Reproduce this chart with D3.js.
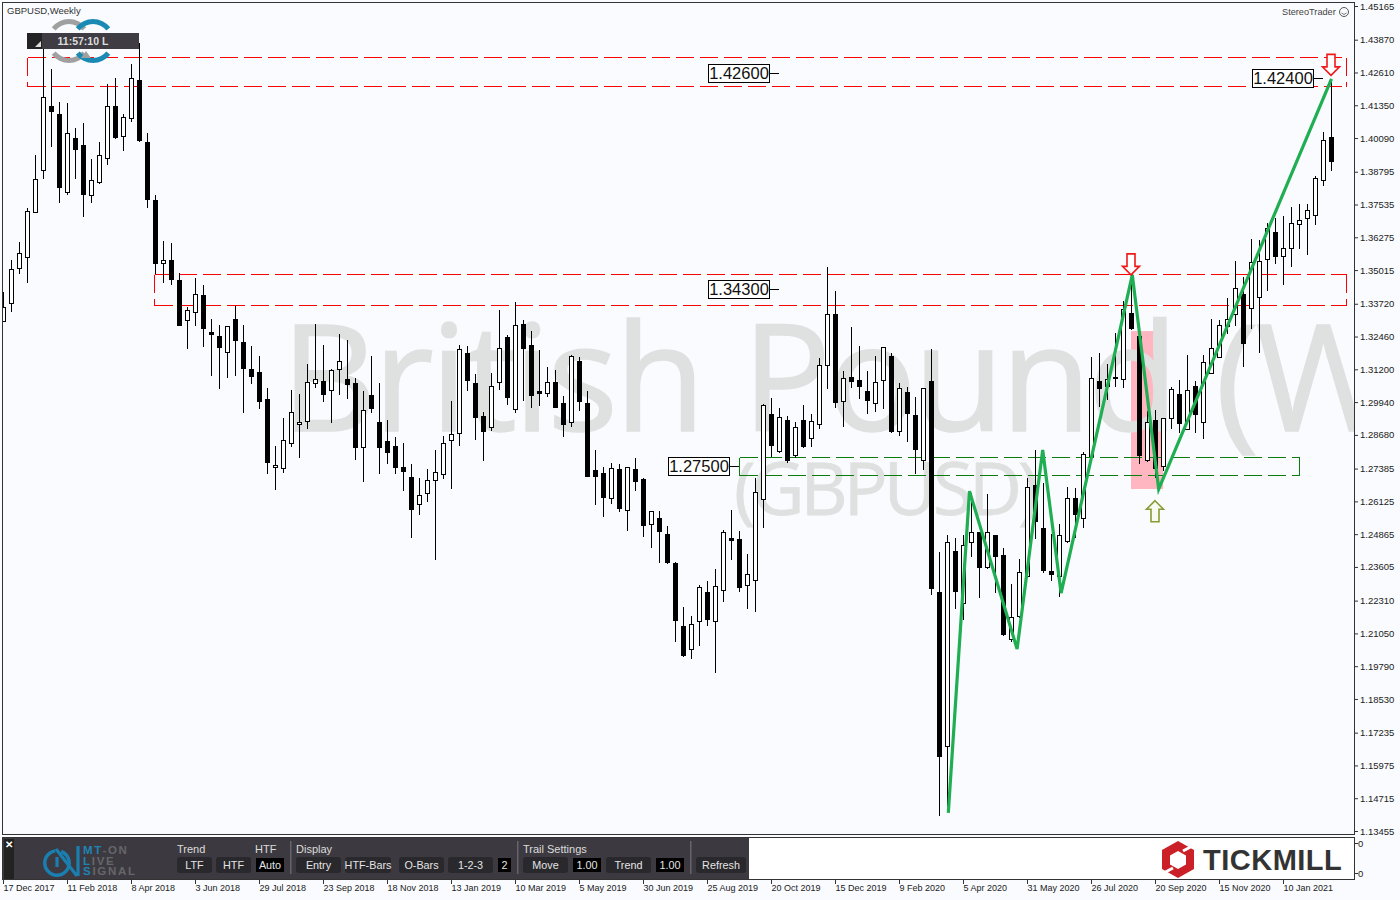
<!DOCTYPE html>
<html><head><meta charset="utf-8">
<style>
html,body{margin:0;padding:0;background:#f9fbfe;overflow:hidden}
svg{display:block}
text{font-family:"Liberation Sans",Arial,sans-serif}
</style>
<script src="https://cdn.jsdelivr.net/npm/d3@7"></script>
</head><body><svg id="c" width="1400" height="900"></svg>
<script>
const symbol="GBPUSD,Weekly";
const yTickLabels=[1.45165,1.43870,1.42610,1.41350,1.40090,1.38795,1.37535,1.36275,1.35015,1.33720,1.32460,1.31200,1.29940,1.28680,1.27385,1.26125,1.24865,1.23605,1.22310,1.21050,1.19790,1.18530,1.17235,1.15975,1.14715,1.13455];
const dateLabels=["17 Dec 2017","11 Feb 2018","8 Apr 2018","3 Jun 2018","29 Jul 2018","23 Sep 2018","18 Nov 2018","13 Jan 2019","10 Mar 2019","5 May 2019","30 Jun 2019","25 Aug 2019","20 Oct 2019","15 Dec 2019","9 Feb 2020","5 Apr 2020","31 May 2020","26 Jul 2020","20 Sep 2020","15 Nov 2020","10 Jan 2021"];
const barsPerDateLabel=8;
const opens=[1.3306,1.3375,1.3509,1.3552,1.3725,1.3886,1.4132,1.4101,1.3801,1.4009,1.3982,1.3790,1.3840,1.3932,1.4132,1.4017,1.4086,1.4232,1.3994,1.3771,
1.3529,1.3540,1.3463,1.3310,1.3340,1.3406,1.3263,1.3248,1.3186,1.3313,1.3225,1.3121,1.3110,1.3006,1.2745,1.2741,1.2837,1.2910,1.2921,1.3067,
1.3075,1.3040,1.3121,1.3083,1.3067,1.2821,1.3021,1.2917,1.2844,1.2825,1.2745,1.2706,1.2602,1.2645,1.2695,1.2718,1.2848,1.2875,1.3183,1.3067,
1.2941,1.2898,1.3071,1.3244,1.2967,1.3294,1.3214,1.3037,1.3029,1.3071,1.2990,1.2917,1.3152,1.2990,1.2733,1.2721,1.2625,1.2737,1.2579,1.2737,
1.2698,1.2525,1.2548,1.2487,1.2375,1.2133,1.2045,1.2153,1.2264,1.2153,1.2272,1.2472,1.2468,1.2291,1.2310,1.2622,1.2948,1.2806,1.2925,1.2791,
1.2925,1.2856,1.2910,1.3137,1.3333,1.2998,1.3090,1.3079,1.3037,1.2990,1.3079,1.3171,1.2883,1.3033,1.2944,1.2771,1.3075,1.2264,1.1672,1.2422,
1.2222,1.2456,1.2495,1.2360,1.2483,1.2406,1.2083,1.2172,1.2325,1.2675,1.2510,1.2345,1.2325,1.2460,1.2625,1.2548,1.2787,1.3075,1.3056,1.3090,
1.3083,1.3336,1.3248,1.2771,1.2925,1.2748,1.2933,1.3025,1.2891,1.3056,1.2917,1.3106,1.3167,1.3286,1.3333,1.3409,1.3356,1.3398,1.3544,1.3648,
1.3556,1.3586,1.3679,1.3702,1.3713,1.3848,1.4013];
const highs=[1.3421,1.3544,1.3613,1.3744,1.3948,1.4378,1.4278,1.4151,1.4147,1.4051,1.4071,1.3932,1.3998,1.4220,1.4244,1.4105,1.4297,1.4378,1.4032,1.3794,
1.3617,1.3609,1.3494,1.3363,1.3475,1.3448,1.3317,1.3294,1.3290,1.3367,1.3294,1.3214,1.3175,1.3052,1.2829,1.2937,1.3044,1.3029,1.3144,1.3298,
1.3217,1.3125,1.3260,1.3237,1.3090,1.3040,1.3175,1.3071,1.2929,1.2864,1.2841,1.2760,1.2706,1.2741,1.2814,1.2868,1.3002,1.3217,1.3214,1.3106,
1.2960,1.3110,1.3352,1.3256,1.3383,1.3313,1.3271,1.3198,1.3133,1.3121,1.3021,1.3179,1.3171,1.3040,1.2814,1.2748,1.2764,1.2760,1.2748,1.2783,
1.2706,1.2579,1.2579,1.2522,1.2383,1.2210,1.2176,1.2295,1.2310,1.2356,1.2506,1.2583,1.2502,1.2414,1.2706,1.2990,1.3014,1.2975,1.2944,1.2921,
1.2987,1.2952,1.3167,1.3517,1.3425,1.3117,1.3286,1.3214,1.3117,1.3175,1.3210,1.3186,1.3071,1.3056,1.3017,1.3052,1.3202,1.2422,1.2487,1.2476,
1.2487,1.2649,1.2495,1.2645,1.2487,1.2437,1.2299,1.2395,1.2706,1.2814,1.2687,1.2491,1.2529,1.2671,1.2668,1.2806,1.3171,1.3186,1.3144,1.3263,
1.3386,1.3483,1.3248,1.2964,1.2967,1.2933,1.3056,1.3083,1.3179,1.3079,1.3179,1.3317,1.3313,1.3398,1.3540,1.3479,1.3625,1.3621,1.3686,1.3706,
1.3713,1.3748,1.3759,1.3759,1.3867,1.4036,1.4240];
const lows=[1.3306,1.3344,1.3490,1.3455,1.3725,1.3855,1.3978,1.3763,1.3794,1.3855,1.3709,1.3763,1.3836,1.3909,1.4009,1.3963,1.4074,1.3998,1.3744,1.3490,
1.3455,1.3448,1.3290,1.3202,1.3290,1.3210,1.3098,1.3048,1.3090,1.3098,1.2956,1.3067,1.2971,1.2721,1.2660,1.2725,1.2825,1.2783,1.2894,1.3052,
1.2998,1.2917,1.3025,1.3010,1.2775,1.2691,1.2956,1.2721,1.2760,1.2721,1.2656,1.2476,1.2564,1.2614,1.2391,1.2702,1.2664,1.2829,1.3040,1.2852,
1.2771,1.2887,1.3044,1.2987,1.2956,1.3002,1.2975,1.2983,1.3017,1.2975,1.2864,1.2902,1.2964,1.2710,1.2602,1.2556,1.2606,1.2575,1.2502,1.2656,
1.2479,1.2437,1.2379,1.2375,1.2076,1.2018,1.2010,1.2060,1.2137,1.1957,1.2230,1.2391,1.2268,1.2203,1.2191,1.2514,1.2787,1.2802,1.2764,1.2783,
1.2821,1.2825,1.2894,1.3048,1.2975,1.2902,1.3052,1.3010,1.2952,1.2960,1.2971,1.2879,1.2868,1.2844,1.2721,1.2737,1.2256,1.1407,1.1445,1.2203,
1.2160,1.2402,1.2245,1.2356,1.2264,1.2099,1.2076,1.2168,1.2322,1.2472,1.2341,1.2310,1.2249,1.2456,1.2476,1.2514,1.2787,1.2979,1.3006,1.3056,
1.3052,1.3275,1.2760,1.2768,1.2706,1.2733,1.2894,1.2879,1.2891,1.2879,1.2856,1.3106,1.3167,1.3260,1.3290,1.3133,1.3279,1.3186,1.3425,1.3529,
1.3448,1.3517,1.3586,1.3563,1.3679,1.3829,1.3886];
const closes=[1.3360,1.3505,1.3567,1.3728,1.3851,1.4167,1.4113,1.3821,1.4029,1.3967,1.3794,1.3848,1.3944,1.4132,1.4013,1.4090,1.4240,1.4001,1.3775,1.3529,
1.3540,1.3467,1.3290,1.3348,1.3409,1.3279,1.3256,1.3206,1.3286,1.3233,1.3125,1.3094,1.2998,1.2764,1.2752,1.2848,1.2956,1.2917,1.3071,1.3083,
1.3025,1.3117,1.3152,1.3064,1.2821,1.2964,1.2971,1.2821,1.2802,1.2745,1.2729,1.2583,1.2637,1.2695,1.2725,1.2837,1.2871,1.3198,1.3079,1.2937,
1.2883,1.3056,1.3202,1.3014,1.3290,1.3202,1.3021,1.3029,1.3071,1.2975,1.2910,1.3171,1.2998,1.2710,1.2710,1.2629,1.2741,1.2587,1.2745,1.2691,
1.2522,1.2575,1.2499,1.2379,1.2156,1.2022,1.2141,1.2283,1.2160,1.2287,1.2495,1.2464,1.2283,1.2333,1.2649,1.2983,1.2829,1.2937,1.2771,1.2898,
1.2825,1.2921,1.3137,1.3333,1.2994,1.3087,1.3075,1.3056,1.3002,1.3071,1.3206,1.2883,1.3048,1.2952,1.2814,1.3048,1.2279,1.1634,1.2456,1.2268,
1.2445,1.2495,1.2360,1.2495,1.2402,1.2103,1.2168,1.2341,1.2668,1.2537,1.2349,1.2333,1.2483,1.2625,1.2564,1.2795,1.3087,1.3048,1.3083,1.3087,
1.3352,1.3279,1.2791,1.2917,1.2741,1.2933,1.3044,1.2914,1.3040,1.2948,1.3148,1.3202,1.3290,1.3313,1.3433,1.3221,1.3532,1.3536,1.3663,1.3556,
1.3586,1.3682,1.3694,1.3732,1.3855,1.4001,1.3921];
const zigzagBars=[118.1,120.75,126.7,129.9,132.2,141.1,144.4,166];
const zigzagPrices=[1.1415,1.2652,1.2045,1.2810,1.2260,1.3483,1.2660,1.4236];
const zoneStart=[3,19,92];
const zoneEnd=[168,168,162];
const zoneTop=[1.4320,1.3486,1.2783];
const zoneBottom=[1.4209,1.3367,1.2714];
const zoneColor=["#ff0000","#ff0000","#0b7b0b"];
const labelText=["1.42600","1.34300","1.27500","1.42400"];
const labelPrice=[1.42600,1.34300,1.27500,1.42400];
const labelEndBar=[97,97,92,165];
const pinkBars=[141,145];
const pinkPrices=[1.3267,1.2660];
const arrowBars=[141,166,144];
const arrowPrices=[1.3483,1.4250,1.2615];
const arrowDirs=["down","down","up"];

const xScale=d3.scaleLinear().domain([0,166]).range([3.5,1331.5]);
const yScale=d3.scaleLinear().domain([1.13455,1.45165]).range([831,6]);
const svg=d3.select("#c");
const BG="#f9fbfe";
svg.append("rect").attr("width",1400).attr("height",900).attr("fill",BG);
const defs=svg.append("defs");
defs.append("clipPath").attr("id","main").append("rect").attr("x",3).attr("y",3).attr("width",1352).attr("height",831);
const plot=svg.append("g").attr("clip-path","url(#main)");

// pink
plot.append("rect").attr("x",xScale(pinkBars[0])-.5).attr("width",xScale(pinkBars[1])-xScale(pinkBars[0]))
 .attr("y",yScale(pinkPrices[0])).attr("height",yScale(pinkPrices[1])-yScale(pinkPrices[0])).attr("fill","#ffb6c1");
// watermark
plot.append("text").attr("x",281).attr("y",431).attr("font-size",148).attr("letter-spacing",-3.4).attr("word-spacing",5).attr("fill","#dfe1e1")
 .attr("stroke","#dfe1e1").attr("stroke-width",1.5)
 .style("font-family","'Open Sans',sans-serif").text("British Pound (W");
plot.append("text").attr("x",734).attr("y",515).attr("font-size",73).attr("letter-spacing",-4).attr("fill","#dfe1e1")
 .attr("stroke","#dfe1e1").attr("stroke-width",.8)
 .style("font-family","'Open Sans',sans-serif").text("(GBPUSD)");
// zones
zoneStart.forEach((s,i)=>{
 const x0=Math.round(xScale(s))-.5+0,x1=Math.round(xScale(zoneEnd[i]))-.5;
 const y0=Math.round(yScale(zoneTop[i]))+.5,y1=Math.round(yScale(zoneBottom[i]))+.5;
 [[x0,y0,x1,y0],[x0,y1,x1,y1],[x0,y0,x0,y1],[x1,y0,x1,y1]].forEach(l=>{
  plot.append("line").attr("x1",l[0]).attr("y1",l[1]).attr("x2",l[2]).attr("y2",l[3])
   .attr("stroke",zoneColor[i]).attr("stroke-width",1).attr("stroke-dasharray","18 6").attr("shape-rendering","crispEdges");
 });
});
// candles
const bars=d3.range(opens.length);
const snap=v=>Math.round(v)+.5;
const cg=plot.append("g").attr("class","candles");
cg.selectAll("line").data(bars).join("line")
 .attr("x1",i=>xScale(i)).attr("x2",i=>xScale(i))
 .attr("y1",i=>snap(yScale(highs[i]))).attr("y2",i=>snap(yScale(lows[i])))
 .attr("stroke","#000").attr("stroke-width",1).attr("shape-rendering","crispEdges");
cg.selectAll("rect").data(bars).join("rect")
 .attr("x",i=>xScale(i)-2).attr("width",4)
 .attr("y",i=>snap(yScale(Math.max(opens[i],closes[i]))))
 .attr("height",i=>Math.max(1,snap(yScale(Math.min(opens[i],closes[i])))-snap(yScale(Math.max(opens[i],closes[i])))))
 .attr("fill",i=>closes[i]>=opens[i]?"#fff":"#000").attr("stroke","#000").attr("stroke-width",1).attr("shape-rendering","crispEdges");
// zigzag
plot.append("path").attr("d",d3.line().x(d=>xScale(d)).y((d,i)=>yScale(zigzagPrices[i]))(zigzagBars))
 .attr("fill","none").attr("stroke","#1fae52").attr("stroke-width",3.2).attr("stroke-linejoin","miter");
// arrows
arrowBars.forEach((b,i)=>{
 const x=xScale(b)-.5,y=yScale(arrowPrices[i]);
 const d=arrowDirs[i]=="down"?1:-1;
 const p=[[0,0],[8.5,-8.5],[4,-8.5],[4,-21],[-4,-21],[-4,-8.5],[-8.5,-8.5]].map(q=>[x+q[0],y+q[1]*d]);
 plot.append("path").attr("d",d3.line()(p)+"Z").attr("fill",d>0?"#fff":"#f8fbf0")
  .attr("stroke",d>0?"#f01818":"#8a9a35").attr("stroke-width",1.6);
});
// labels
labelText.forEach((t,i)=>{
 const xe=Math.floor(xScale(labelEndBar[i])),y=Math.round(yScale(labelPrice[i]));
 const bx=xe-71,bw=61,by=y-9,bh=18;
 plot.append("line").attr("x1",bx+bw).attr("x2",xe).attr("y1",y+.5).attr("y2",y+.5).attr("stroke","#000").attr("shape-rendering","crispEdges");
 plot.append("rect").attr("x",bx+.5).attr("y",by+.5).attr("width",bw).attr("height",bh).attr("fill","#fff").attr("stroke","#000").attr("shape-rendering","crispEdges");
 plot.append("text").attr("x",bx+31).attr("y",by+15).attr("text-anchor","middle").attr("font-size",16.5).attr("fill","#111").text(t);
});
// frames
const dark="#333";
svg.append("rect").attr("x",2.5).attr("y",2.5).attr("width",1352).attr("height",832).attr("fill","none").attr("stroke",dark).attr("shape-rendering","crispEdges");
svg.append("rect").attr("x",2.5).attr("y",837.5).attr("width",1352).attr("height",42).attr("fill","#fff").attr("stroke",dark).attr("shape-rendering","crispEdges");
// axes
const yAxis=d3.axisRight(yScale).tickValues(yTickLabels).tickFormat(d3.format(".5f")).tickSize(3).tickPadding(2);
const yG=svg.append("g").attr("transform","translate(1355,0)").call(yAxis);
yG.select(".domain").remove();
yG.selectAll("line").attr("stroke",dark);
yG.selectAll("text").attr("font-size",9.5).attr("fill","#222").style("font-family","'Liberation Sans',sans-serif");
const xAxis=d3.axisBottom(xScale).tickValues(dateLabels.map((d,i)=>i*barsPerDateLabel)).tickFormat((d,i)=>dateLabels[i]).tickSize(4).tickPadding(1);
const xG=svg.append("g").attr("transform","translate(-.5,880)").call(xAxis);
xG.select(".domain").remove();
xG.selectAll("line").attr("stroke",dark);
xG.selectAll("text").attr("font-size",9).attr("fill","#222").attr("text-anchor","start").attr("x",0).style("font-family","'Liberation Sans',sans-serif");
// sub-window axis
[843,873].forEach(y=>{
 svg.append("line").attr("x1",1355).attr("x2",1358).attr("y1",y+.5).attr("y2",y+.5).attr("stroke",dark);
 svg.append("text").attr("x",1358).attr("y",y+3.5).attr("font-size",9.5).attr("fill","#222").text("0");
});
// header text
svg.append("text").attr("x",7).attr("y",14).attr("font-size",9.5).attr("fill","#333").text(symbol);
svg.append("text").attr("x",1282).attr("y",15).attr("font-size",9.2).attr("fill","#444").text("StereoTrader");
svg.append("circle").attr("cx",1344).attr("cy",12).attr("r",4.5).attr("fill","none").attr("stroke","#555");
svg.append("path").attr("d","M1341.5 13 Q1344 16 1346.5 13").attr("fill","none").attr("stroke","#555").attr("stroke-width",.8);
// clock logo
function ring(cx,col){
 const arc=d3.arc().innerRadius(17).outerRadius(22);
 [[-0.9,0.9],[Math.PI-0.9,Math.PI+0.9]].forEach(a=>{
  svg.append("path").attr("transform",`translate(${cx},41)`).attr("d",arc({startAngle:a[0],endAngle:a[1]})).attr("fill",col);
 });
}
ring(69,"#a0a0a0");ring(93,"#1a8ab5");
svg.append("path").attr("d","M81 58 L86 51 L91 58Z").attr("fill","#a0a0a0");
svg.append("rect").attr("x",27).attr("y",33).attr("width",112).attr("height",16).attr("fill","#3f3c43");
svg.append("rect").attr("x",27).attr("y",33).attr("width",15).attr("height",16).attr("fill","#232225");
svg.append("path").attr("d","M35 47 L41 47 L41 41Z").attr("fill","#ddd");
svg.append("text").attr("x",83).attr("y",45).attr("text-anchor","middle").attr("font-size",10.5).attr("font-weight","bold").attr("fill","#ddd").text("11:57:10 L");
// control panel
const panel=svg.append("g");
panel.append("rect").attr("x",3).attr("y",838).attr("width",746).attr("height",41).attr("fill","#3c3a40");
panel.append("rect").attr("x",4).attr("y",839).attr("width",10).attr("height",40).attr("fill","#222");
panel.append("text").attr("x",9).attr("y",848).attr("text-anchor","middle").attr("font-size",10).attr("font-weight","bold").attr("fill","#fff").text("✕");
panel.append("path").attr("d",d3.arc().innerRadius(10.5).outerRadius(14)({startAngle:0.35,endAngle:Math.PI*2-0.15})).attr("transform","translate(57,863)").attr("fill","#1a7fb0");
panel.append("path").attr("d","M57 857 V867 M56 849 L77 876 M78 846 V876").attr("fill","none").attr("stroke","#1a7fb0").attr("stroke-width",3.2);
const logoRows=[["MT","-ON",854],["L","IVE",864.5],["S","IGNAL",875]];
logoRows.forEach(r=>{
 const t=panel.append("text").attr("x",83).attr("y",r[2]).attr("font-size",11.5).attr("font-weight","bold").attr("letter-spacing",1.7);
 t.append("tspan").attr("fill","#1f83b5").text(r[0]);
 t.append("tspan").attr("fill","#66666a").text(r[1]);
});
const headings=[["Trend",177],["HTF",255],["Display",296],["Trail Settings",523]];
headings.forEach(h=>panel.append("text").attr("x",h[1]).attr("y",853).attr("font-size",11).attr("fill","#dcdcdc").text(h[0]));
[290,517,690].forEach(x=>panel.append("rect").attr("x",x).attr("y",841).attr("width",1.5).attr("height",33).attr("fill","#66646a"));
const buttons=[["LTF",177,212,0],["HTF",216,251,0],["Auto",256,284,1],["Entry",296,341,0],["HTF-Bars",345,391,0],["O-Bars",399,444,0],["1-2-3",448,493,0],["2",498,511,1],["Move",523,568,0],["1.00",573,601,1],["Trend",606,651,0],["1.00",656,684,1],["Refresh",696,746,0]];
buttons.forEach(b=>{
 panel.append("rect").attr("x",b[1]).attr("y",857).attr("width",b[2]-b[1]).attr("height",b[3]?14:16).attr("transform",b[3]?"translate(0,1)":null).attr("rx",b[3]?0:3).attr("fill",b[3]?"#000":"#29282c");
 panel.append("text").attr("x",(b[1]+b[2])/2).attr("y",869).attr("text-anchor","middle").attr("font-size",10.8).attr("fill","#e4e4e4").text(b[0]);
});
// tickmill
const hex=[[1178,841],[1194,850],[1194,869],[1178,878],[1162,869],[1162,850]];
svg.append("path").attr("d",d3.line()(hex)+"Z").attr("fill","#cb2027");
svg.append("path").attr("d",d3.line()([[1178,851],[1186,855.5],[1186,864.5],[1178,869],[1170,864.5],[1170,855.5]])+"Z").attr("fill","#fff");
svg.append("path").attr("d","M1183 851 L1196 844 M1173 868 L1160 875").attr("stroke","#fff").attr("stroke-width",3);
svg.append("text").attr("x",1203).attr("y",870).attr("font-size",29).attr("font-weight","bold").attr("letter-spacing",.5).attr("fill","#333").text("TICKMILL");
</script></body></html>
